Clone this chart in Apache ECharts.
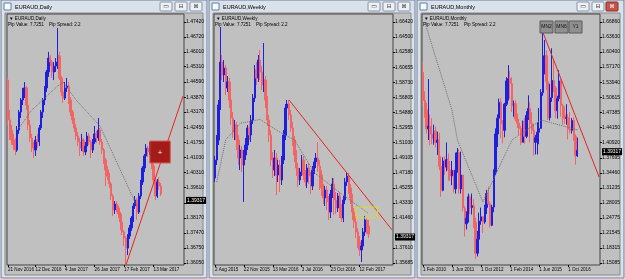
<!DOCTYPE html>
<html><head><meta charset="utf-8">
<script src="https://cdn.jsdelivr.net/npm/echarts@6/dist/echarts.min.js"></script>
<style>html,body{margin:0;padding:0;background:#eef1f5;}#c{width:625px;height:279px;}</style>
</head><body><div id="c"></div>
<script>
// ---------- DATA ----------
// candles: [open, close, low, high]
const dailyBars = [
[1.4468,1.4280,1.4256,1.4483],[1.4280,1.4232,1.4185,1.4327],[1.4232,1.4185,1.4162,1.4256],[1.4185,1.4162,1.4138,1.4214],
[1.4162,1.4138,1.4114,1.4195],[1.4138,1.4232,1.4129,1.4251],[1.4232,1.4317,1.4214,1.4327],[1.4317,1.4374,1.4289,1.4383],
[1.4374,1.4412,1.4350,1.4431],[1.4412,1.4431,1.4383,1.4459],[1.4431,1.4350,1.4327,1.4440],[1.4350,1.4256,1.4232,1.4374],
[1.4256,1.4195,1.4176,1.4280],[1.4195,1.4147,1.4129,1.4214],[1.4147,1.4138,1.4100,1.4176],[1.4138,1.4185,1.4110,1.4204],
[1.4185,1.4176,1.4147,1.4214],[1.4176,1.4242,1.4157,1.4256],[1.4242,1.4317,1.4232,1.4327],[1.4317,1.4374,1.4289,1.4383],
[1.4374,1.4431,1.4350,1.4440],[1.4431,1.4506,1.4412,1.4516],[1.4506,1.4572,1.4483,1.4601],[1.4572,1.4553,1.4534,1.4586],
[1.4553,1.4506,1.4478,1.4563],[1.4506,1.4534,1.4468,1.4553],[1.4534,1.4553,1.4506,1.4572],[1.4553,1.4582,1.4520,1.4714],
[1.4582,1.4478,1.4468,1.4601],[1.4478,1.4412,1.4393,1.4488],[1.4412,1.4383,1.4360,1.4440],[1.4383,1.4431,1.4374,1.4459],
[1.4431,1.4440,1.4412,1.4478],[1.4440,1.4374,1.4355,1.4459],[1.4374,1.4317,1.4298,1.4388],[1.4317,1.4280,1.4261,1.4327],
[1.4280,1.4242,1.4223,1.4289],[1.4242,1.4204,1.4185,1.4261],[1.4204,1.4176,1.4157,1.4223],[1.4176,1.4147,1.4110,1.4195],
[1.4147,1.4185,1.4133,1.4214],[1.4185,1.4129,1.4110,1.4195],[1.4129,1.4157,1.4114,1.4176],[1.4157,1.4204,1.4143,1.4223],
[1.4204,1.4176,1.4162,1.4218],[1.4176,1.4138,1.4100,1.4185],[1.4138,1.4176,1.4124,1.4190],[1.4176,1.4214,1.4166,1.4251],
[1.4214,1.4195,1.4171,1.4228],[1.4195,1.4232,1.4181,1.4289],[1.4232,1.4176,1.4162,1.4242],[1.4176,1.4138,1.4119,1.4190],
[1.4138,1.4091,1.4072,1.4147],[1.4091,1.4044,1.3968,1.4100],[1.4044,1.4015,1.3997,1.4062],[1.4015,1.3978,1.3959,1.4030],
[1.3978,1.3921,1.3902,1.3987],[1.3921,1.3855,1.3826,1.3930],[1.3855,1.3883,1.3836,1.3897],[1.3883,1.3864,1.3845,1.3897],
[1.3864,1.3836,1.3817,1.3874],[1.3836,1.3798,1.3760,1.3845],[1.3798,1.3751,1.3737,1.3808],[1.3751,1.3723,1.3685,1.3760],
[1.3723,1.3675,1.3595,1.3732],[1.3675,1.3732,1.3642,1.3741],[1.3732,1.3770,1.3718,1.3784],[1.3770,1.3817,1.3756,1.3826],
[1.3817,1.3874,1.3798,1.3888],[1.3874,1.3902,1.3860,1.3921],[1.3902,1.3845,1.3808,1.3912],[1.3845,1.3921,1.3836,1.3935],
[1.3921,1.3987,1.3907,1.3997],[1.3987,1.4053,1.3973,1.4062],[1.4053,1.4110,1.4034,1.4119],[1.4110,1.4147,1.4100,1.4166],
[1.4147,1.4129,1.4105,1.4157],[1.4129,1.4157,1.4114,1.4176],[1.4157,1.4062,1.4048,1.4166],[1.4062,1.3996,1.3978,1.4072],
[1.3996,1.3921,1.3902,1.4006],[1.3921,1.3987,1.3912,1.4001],[1.3987,1.3968,1.3949,1.4010],[1.3968,1.3930,1.3921,1.3982]
];
const weeklyBars = [
[1.4653,1.4882,1.4602,1.4933],[1.4882,1.5137,1.4818,1.5201],[1.5137,1.5584,1.5073,1.5647],[1.5584,1.6132,1.5520,1.6578],
[1.6132,1.5966,1.5902,1.6221],[1.5966,1.6055,1.5877,1.6157],[1.6055,1.5800,1.5711,1.6094],[1.5800,1.5877,1.5749,1.5953],
[1.5877,1.5647,1.5545,1.5928],[1.5647,1.5418,1.5329,1.5698],[1.5418,1.5239,1.5163,1.5494],[1.5239,1.5329,1.5137,1.5392],
[1.5329,1.5137,1.5010,1.5367],[1.5137,1.4908,1.4818,1.5201],[1.4908,1.5010,1.4755,1.5073],[1.5010,1.4818,1.4729,1.5061],
[1.4818,1.4946,1.4347,1.5010],[1.4946,1.5073,1.4882,1.5163],[1.5073,1.5290,1.5010,1.5329],[1.5290,1.5201,1.5137,1.5367],
[1.5201,1.5392,1.5112,1.5456],[1.5392,1.5673,1.5341,1.5724],[1.5673,1.6030,1.5622,1.6094],[1.6030,1.5928,1.5839,1.6132],
[1.5928,1.6157,1.5877,1.6221],[1.6157,1.6004,1.5902,1.6285],[1.6004,1.5839,1.5775,1.6081],[1.5839,1.5902,1.5749,1.6374],
[1.5902,1.5647,1.5545,1.5953],[1.5647,1.5392,1.5316,1.5698],[1.5392,1.5201,1.5112,1.5456],[1.5201,1.4882,1.4806,1.5265],
[1.4882,1.4755,1.4653,1.4984],[1.4755,1.4908,1.4678,1.5010],[1.4908,1.4691,1.4436,1.4971],[1.4691,1.4818,1.4602,1.4882],
[1.4818,1.4627,1.4474,1.4882],[1.4627,1.4882,1.4563,1.4933],[1.4882,1.5201,1.4831,1.5265],[1.5201,1.5545,1.5137,1.5596],
[1.5545,1.5596,1.5456,1.5647],[1.5596,1.5456,1.5392,1.5647],[1.5456,1.5290,1.5239,1.5520],[1.5290,1.5137,1.5061,1.5367],
[1.5137,1.4946,1.4857,1.5188],[1.4946,1.4780,1.4678,1.5010],[1.4780,1.4627,1.4538,1.4844],[1.4627,1.4729,1.4563,1.4780],
[1.4729,1.4882,1.4678,1.4946],[1.4882,1.4691,1.4627,1.4933],[1.4691,1.4602,1.4551,1.4755],[1.4602,1.4780,1.4525,1.4831],
[1.4780,1.4678,1.4576,1.4844],[1.4678,1.4551,1.4449,1.4729],[1.4551,1.4755,1.4500,1.4806],[1.4755,1.4857,1.4704,1.4908],
[1.4857,1.4908,1.4780,1.4971],[1.4908,1.4806,1.4729,1.5112],[1.4806,1.4691,1.4500,1.4882],[1.4691,1.4525,1.4423,1.4755],
[1.4525,1.4398,1.4321,1.4576],[1.4398,1.4500,1.4295,1.4551],[1.4500,1.4347,1.4244,1.4551],[1.4347,1.4219,1.4117,1.4423],
[1.4219,1.4449,1.4142,1.4500],[1.4449,1.4576,1.4398,1.4653],[1.4576,1.4372,1.4181,1.4653],[1.4372,1.4270,1.4193,1.4474],
[1.4270,1.4423,1.4219,1.4461],[1.4423,1.4244,1.4142,1.4474],[1.4244,1.4142,1.4091,1.4321],[1.4142,1.4372,1.4091,1.4423],
[1.4372,1.4602,1.4321,1.4653],[1.4602,1.4678,1.4551,1.4729],[1.4678,1.4525,1.4449,1.4716],[1.4525,1.4398,1.4321,1.4576],
[1.4398,1.4219,1.4117,1.4449],[1.4219,1.4091,1.4015,1.4270],[1.4091,1.3964,1.3887,1.4168],[1.3964,1.3836,1.3760,1.4015],
[1.3836,1.3734,1.3658,1.3913],[1.3734,1.3785,1.3581,1.3862],[1.3785,1.3964,1.3734,1.4015],[1.3964,1.4117,1.3913,1.4168],
[1.4117,1.4040,1.3938,1.4142],[1.4040,1.3938,1.3887,1.4117]
];
const monthlyBars = [
[1.5600,1.5000,1.4880,1.5830],[1.5000,1.4800,1.4630,1.5200],[1.4800,1.4390,1.4290,1.4950],[1.4390,1.4450,1.4150,1.5460],
[1.4450,1.4280,1.4040,1.4700],[1.4280,1.4180,1.4060,1.4620],[1.4180,1.4340,1.4050,1.4480],[1.4340,1.4100,1.3990,1.4440],
[1.4100,1.4150,1.3830,1.4330],[1.4150,1.3580,1.3500,1.4300],[1.3580,1.3070,1.2930,1.3800],[1.3070,1.3700,1.3050,1.3780],
[1.3700,1.3570,1.3400,1.3800],[1.3570,1.3730,1.3480,1.4100],[1.3730,1.3510,1.3280,1.3860],[1.3510,1.3380,1.3270,1.3700],
[1.3380,1.3500,1.3180,1.3700],[1.3500,1.3100,1.3020,1.3500],[1.3100,1.3500,1.3000,1.3880],[1.3500,1.3880,1.3450,1.3980],
[1.3880,1.3100,1.3000,1.3950],[1.3100,1.3400,1.3000,1.3900],[1.3400,1.2690,1.2620,1.3400],[1.2690,1.2350,1.2080,1.2730],
[1.2350,1.2470,1.2230,1.2620],[1.2470,1.2930,1.2380,1.3000],[1.2930,1.2700,1.2560,1.2960],[1.2700,1.2740,1.2550,1.3000],
[1.2740,1.2380,1.2260,1.2880],[1.2380,1.1720,1.1600,1.2480],[1.1720,1.2020,1.1650,1.2200],[1.2020,1.2410,1.1880,1.2590],
[1.2410,1.2500,1.2330,1.2700],[1.2500,1.2390,1.2150,1.2520],[1.2390,1.2700,1.2350,1.2760],[1.2700,1.3000,1.2560,1.3080],
[1.3000,1.2780,1.2760,1.3150],[1.2780,1.2320,1.2270,1.2830],[1.2320,1.2710,1.2300,1.2760],[1.2710,1.3460,1.2600,1.3520],
[1.3460,1.4280,1.3400,1.4400],[1.4280,1.4620,1.4000,1.4700],[1.4620,1.4960,1.4310,1.5040],[1.4960,1.4500,1.4190,1.5050],
[1.4500,1.4360,1.4080,1.4580],[1.4360,1.4920,1.4210,1.4950],[1.4920,1.5420,1.4880,1.5500],[1.5420,1.5470,1.5000,1.5760],
[1.5470,1.5360,1.5040,1.5640],[1.5360,1.4880,1.4750,1.5500],[1.4880,1.4930,1.4650,1.5000],[1.4930,1.4600,1.4550,1.5000],
[1.4600,1.4510,1.4410,1.4720],[1.4510,1.4400,1.4260,1.4570],[1.4400,1.4100,1.4040,1.4460],[1.4100,1.4540,1.4100,1.4570],
[1.4540,1.4230,1.4070,1.4630],[1.4230,1.4680,1.4190,1.4770],[1.4680,1.4830,1.4580,1.5110],[1.4830,1.4500,1.4100,1.4960],
[1.4500,1.4360,1.4280,1.4750],[1.4360,1.4100,1.3820,1.4500],[1.4100,1.4200,1.3840,1.4260],[1.4200,1.4320,1.3840,1.4530],
[1.4320,1.4400,1.4060,1.4840],[1.4400,1.5170,1.4400,1.5240],[1.5170,1.5720,1.5100,1.6470],[1.5720,1.5960,1.5560,1.6300],
[1.5960,1.5400,1.5230,1.6080],[1.5400,1.4630,1.4580,1.5500],[1.4630,1.5060,1.4570,1.5360],[1.5060,1.5430,1.4970,1.6120],
[1.5430,1.5270,1.5180,1.5890],[1.5270,1.4780,1.4620,1.5300],[1.4780,1.5040,1.4610,1.5100],[1.5040,1.5420,1.4980,1.5650],
[1.5420,1.4890,1.4650,1.5460],[1.4890,1.4680,1.4480,1.4930],[1.4680,1.4620,1.4500,1.4870],[1.4620,1.4630,1.4480,1.4920],
[1.4630,1.4380,1.4160,1.4710],[1.4380,1.4360,1.4290,1.4750],[1.4360,1.4570,1.4290,1.4620],[1.4570,1.4230,1.4130,1.4640],
[1.4230,1.3810,1.3620,1.4270],[1.3810,1.3930,1.3790,1.4200]
];
// dotted averages [barIndex, price]
const dailyAvg = [[6,1.4242],[13,1.4327],[27,1.4440],[30,1.4458],[37,1.4374],[50,1.4250],[54,1.4175],[70,1.3873]];
const weeklyAvg = [[1,1.4600],[6,1.5140],[14,1.5350],[25,1.5400],[35,1.5250],[44,1.5137],[55,1.4720],[70,1.4450],[85,1.4200]];
const monthlyAvg = [[1,1.6686],[16,1.4795],[19,1.4151],[33,1.2819],[49,1.4151],[65,1.4580],[85,1.4370]];
// trend lines [barIndex, price]
const dailyTrend = [[64,1.3595],[95,1.4393]];
const weeklyTrend = [[41,1.5647],[98,1.3990]];
const monthlyTrend = [[66,1.6470],[97,1.3356]];
// rectangles [fromIndex, topPrice, toIndex, bottomPrice]
const dailyRect = [77,1.4180,88,1.4077];
const weeklyRect = [78,1.4283,90,1.4142];
const currentPrice = 1.39317;
// axis slots (bars + right shift)
const slots = [96, 99, 98];
// tick labels
const yTicks1 = [1.36050,1.36750,1.37470,1.38170,1.38890,1.39610,1.40310,1.41030,1.41750,1.42450,1.43170,1.43870,1.44590,1.45310,1.46010,1.46720,1.47420];
const yTicks2 = [1.35685,1.37610,1.41460,1.43330,1.45255,1.47180,1.49105,1.51030,1.52955,1.54880,1.56805,1.58730,1.60655,1.62580,1.64500,1.66420];
const yTicks3 = [1.15085,1.18315,1.21545,1.24775,1.28005,1.31235,1.34460,1.37695,1.40920,1.44150,1.47385,1.50615,1.53940,1.57170,1.60400,1.63630,1.66860];
const yRange = [[1.35952,1.47799],[1.35431,1.67441],[1.14656,1.68578]];
const xTickIdx1 = [0,15,31,47,63,79];
const xTickTxt1 = ['21 Nov 2016','12 Dec 2016','4 Jan 2017','26 Jan 2017','17 Feb 2017','13 Mar 2017'];
const xTickIdx2 = [0,16,32,48,64,80];
const xTickTxt2 = ['2 Aug 2015','22 Nov 2015','13 Mar 2016','3 Jul 2016','23 Oct 2016','12 Feb 2017'];
const xTickIdx3 = [0,16,32,48,64,80];
const xTickTxt3 = ['1 Feb 2010','1 Jun 2011','1 Oct 2012','1 Feb 2014','1 Jun 2015','1 Oct 2016'];
const titles = ['EURAUD,Daily','EURAUD,Weekly','EURAUD,Monthly'];
const tfButtons = ['MN2','MN6','Y1'];

// ---------- CHART ----------
const FONT = 'Liberation Sans';
const BULL = '#1f1fe0', BEAR = '#f36464';
const grids = [
  {left:7, top:14, width:177, height:251},
  {left:214, top:14, width:179, height:251},
  {left:422, top:14, width:178, height:251}
];
const xIdx = [xTickIdx1, xTickIdx2, xTickIdx3];
const xTxt = [xTickTxt1, xTickTxt2, xTickTxt3];
const yT = [yTicks1, yTicks2, yTicks3];
const bars = [dailyBars, weeklyBars, monthlyBars];
const avgs = [dailyAvg, weeklyAvg, monthlyAvg];
const trends = [dailyTrend, weeklyTrend, monthlyTrend];

const option = {
  animation:false,
  backgroundColor:'#eef1f5',
  textStyle:{fontFamily:FONT},
  grid: grids.map(g => Object.assign({show:true, backgroundColor:'#c0c0c0', borderColor:'#454545', borderWidth:1}, g)),
  xAxis: [0,1,2].map(k => ({
    type:'category', gridIndex:k, boundaryGap:true,
    data: Array.from({length:slots[k]}, (_, i) => String(i)),
    axisLine:{show:false},
    axisTick:{show:true, alignWithLabel:true, length:2, interval:(i)=>xIdx[k].includes(i), lineStyle:{color:'#000'}},
    axisLabel:{interval:(i)=>xIdx[k].includes(i), formatter:(v,i)=>xTxt[k][xIdx[k].indexOf(i)] || '',
      fontSize:4.6, color:'#000', align:'left', margin:2, fontFamily:FONT},
    splitLine:{show:false}
  })),
  yAxis: [0,1,2].map(k => ({
    type:'value', gridIndex:k, position:'right', min:yRange[k][0], max:yRange[k][1],
    axisLine:{show:false}, splitLine:{show:false},
    axisTick:{show:true, length:2, inside:false, customValues:yT[k], lineStyle:{color:'#000'}},
    axisLabel:{customValues:yT[k], formatter:v=>v.toFixed(5), fontSize:5, color:'#000', margin:2, fontFamily:FONT}
  })),
  series: []
};

[0,1,2].forEach(k => {
  const cs = {
    type:'candlestick', xAxisIndex:k, yAxisIndex:k, data:bars[k], barWidth:1.8,
    itemStyle:{color:BULL, color0:BEAR, borderColor:BULL, borderColor0:BEAR, borderWidth:1},
    markLine:{silent:true, symbol:['none','none'], lineStyle:{color:'rgba(0,0,0,0)'},
      label:{show:true, position:'end', formatter:currentPrice.toFixed(5), backgroundColor:'#000', color:'#fff',
        fontSize:5, padding:[1,1], distance:2, fontFamily:FONT},
      data:[{yAxis:currentPrice}]}
  };
  option.series.push(cs);
  option.series.push({type:'line', xAxisIndex:k, yAxisIndex:k, data:avgs[k], symbol:'none', z:3,
    lineStyle:{color:'#6e6e6e', width:1, type:'dotted'}});
  const tr = {type:'line', xAxisIndex:k, yAxisIndex:k, data:trends[k], symbol:'none', z:4, clip:true,
    lineStyle:{color:'#e8231e', width:1}};
  if (k === 0) {
    tr.markArea = {silent:true, z:10, itemStyle:{color:'#a31c1a', borderColor:'#d84a40', borderWidth:1},
      label:{show:true, position:'inside', color:'#fff', fontSize:6, fontFamily:'DejaVu Sans'},
      data:[[{name:'+', xAxis:dailyRect[0], yAxis:dailyRect[1]},{xAxis:dailyRect[2], yAxis:dailyRect[3]}]]};
  }
  if (k === 1) {
    tr.markArea = {silent:true, z:10, itemStyle:{color:'rgba(220,220,120,0.15)', borderColor:'#d6d640', borderWidth:1},
      label:{show:false},
      data:[[{xAxis:weeklyRect[0], yAxis:weeklyRect[1]},{xAxis:weeklyRect[2], yAxis:weeklyRect[3]}]]};
  }
  option.series.push(tr);
});

// window chrome
const wins = [
  {x:1, w:206, btn:[160,175,190]},
  {x:209, w:206, btn:[368,383,398]},
  {x:417, w:207, btn:[577,592,606]}
];
const els = [];
const glyphs = ['▭','⊟','⊠'];
wins.forEach((W, k) => {
  els.push({type:'rect', z:-30, shape:{x:W.x, y:0, width:W.w, height:278}, style:{fill:'#d9e1eb', stroke:'#6f7f96', lineWidth:1}});
  els.push({type:'rect', z:-29, shape:{x:W.x+4, y:13, width:W.w-8, height:262}, style:{fill:'#c0c0c0', stroke:'#8a8a8a', lineWidth:1}});
  els.push({type:'rect', z:-28, shape:{x:W.x+3, y:3, width:7, height:7}, style:{fill:'#f6f8fb', stroke:'#5e7ea8', lineWidth:1}});
  els.push({type:'text', z:-28, style:{text:titles[k], x:W.x+14, y:4, fill:'#000', fontSize:5.5, fontFamily:FONT}});
  W.btn.forEach((bx, j) => {
    const red = (k === 2 && j === 2);
    els.push({type:'rect', z:-28, shape:{x:bx, y:2, width:12, height:9, r:1}, style:{fill: red ? '#c9524a' : '#edf1f5', stroke: red ? '#8e2a24' : '#8593a8', lineWidth:1}});
    els.push({type:'text', z:-27, style:{text:glyphs[j], x:bx+6, y:6.5, align:'center', verticalAlign:'middle', fill: red ? '#fff' : '#333', fontSize:6, fontFamily:'DejaVu Sans'}});
  });
  const gx = grids[k].left;
  els.push({type:'text', z:50, style:{text:'▼ ' + titles[k], x:gx+2, y:16, fill:'#000', fontSize:4.6, fontFamily:FONT}});
  els.push({type:'text', z:50, style:{text:'Pip Value: 7.7251', x:gx+1, y:22, fill:'#000', fontSize:4.6, fontFamily:FONT}});
  els.push({type:'text', z:50, style:{text:'Pip Spread: 2.2', x:gx+42, y:22, fill:'#000', fontSize:4.6, fontFamily:FONT}});
});
[540,555,569].forEach((bx, j) => {
  els.push({type:'rect', z:50, shape:{x:bx, y:21, width:13, height:12}, style:{fill:'#8f8f8f', stroke:'#5a5a5a', lineWidth:1}});
  els.push({type:'text', z:51, style:{text:tfButtons[j], x:bx+6.5, y:27, align:'center', verticalAlign:'middle', fill:'#111', fontSize:5, fontFamily:FONT}});
});
option.graphic = {elements: els};

const chart = echarts.init(document.getElementById('c'), null, {renderer:'canvas'});
chart.setOption(option);
</script></body></html>
